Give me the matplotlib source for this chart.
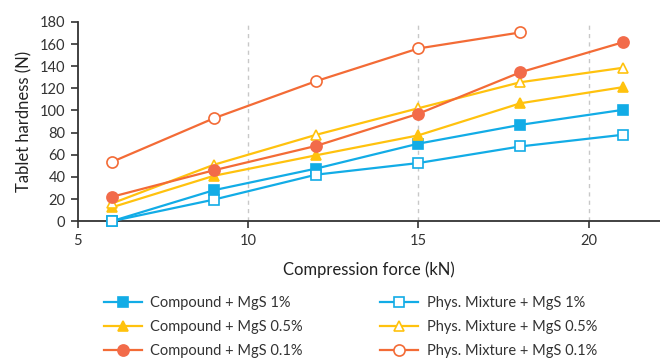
import matplotlib
matplotlib.use("Agg")
import matplotlib.pyplot as plt

force = [6, 9, 12, 15, 18, 21]
force_pm01 = [6, 9, 12, 15, 18]

compound_1 = [0, 28, 47.5, 70, 87, 100.5]
physmix_1 = [0, 19.5, 42, 52.5, 67.5, 78]
compound_05 = [12.5, 41, 59.5, 77.5, 106.5, 121]
physmix_05 = [16, 51, 78, 102, 125.5, 138.5]
compound_01 = [22, 46, 68, 97, 134.5, 161.5]
physmix_01 = [53.5, 93, 126.5, 156, 170.5]

labels = ["Compound + MgS 1%", "Phys. Mixture + MgS 1%",
          "Compound + MgS 0.5%", "Phys. Mixture + MgS 0.5%",
          "Compound + MgS 0.1%", "Phys. Mixture + MgS 0.1%"]

plt.rcParams['font.family'] = ['Lato', 'DejaVu Sans']

BLUE = '#12ACE6'
YEL = '#FFC20E'
ORA = '#F36B36'
ORA_M = '#F26B4A'

fig = plt.figure(figsize=(6.6, 3.59), dpi=100)
ax = fig.add_axes([0.118, 0.384, 0.882, 0.555])

lw = 1.6
series = [
    (force, compound_1, BLUE, 's', BLUE, BLUE, 6.5),
    (force, physmix_1, BLUE, 's', 'white', BLUE, 6.5),
    (force, compound_05, YEL, '^', YEL, YEL, 7.5),
    (force, physmix_05, YEL, '^', 'white', YEL, 7.5),
    (force, compound_01, ORA, 'o', ORA_M, ORA_M, 8),
    (force_pm01, physmix_01, ORA, 'o', 'white', ORA, 8),
]
handles = []
for (x, y, c, m, fc, ec, ms) in series:
    h, = ax.plot(x, y, color=c, lw=lw, marker=m, markersize=ms,
                 markerfacecolor=fc, markeredgecolor=ec, markeredgewidth=1.2,
                 clip_on=False, zorder=3)
    handles.append(h)

ax.set_xlim(5, 22.1)
ax.set_ylim(0, 180)
ax.set_xticks([5, 10, 15, 20])
ax.set_yticks(range(0, 181, 20))
for xv in [10, 15, 20]:
    ax.axvline(xv, color='#c8c8c8', lw=1, ls=(0, (3, 3)), zorder=1)

for s in ['top', 'right']:
    ax.spines[s].set_visible(False)
for s in ['left', 'bottom']:
    ax.spines[s].set_color('#333333')
    ax.spines[s].set_linewidth(1.3)
ax.tick_params(direction='out', length=5, width=1.2, color='#333333',
               labelsize=10.5, labelcolor='#333333', pad=4)

ax.set_xlabel("Compression force (kN)", fontsize=12, color='#222222', labelpad=10)
ax.set_ylabel("Tablet hardness (N)", fontsize=12, color='#222222', labelpad=5)

order = [0, 2, 4, 1, 3, 5]
fig.legend([handles[i] for i in order], [labels[i] for i in order],
           ncol=2, loc='upper left',
           bbox_to_anchor=(0.157, 0.175), frameon=False, fontsize=10.5,
           handlelength=2.6, handletextpad=0.6, columnspacing=5.3,
           labelspacing=0.68, labelcolor='#333333', borderaxespad=0,
           borderpad=0)

fig.savefig("out.png", dpi=100)
